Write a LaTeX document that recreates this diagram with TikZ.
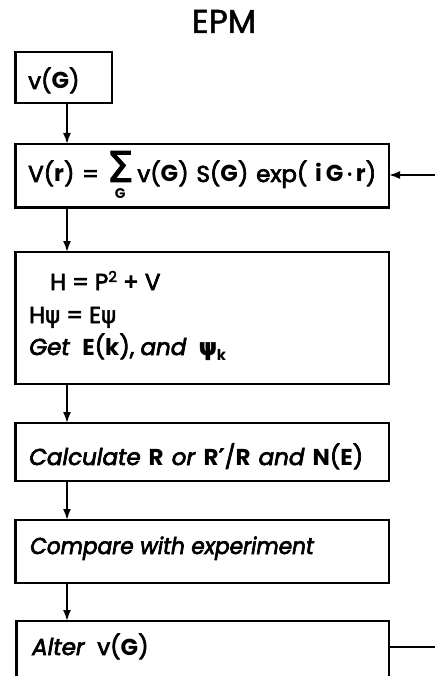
\documentclass[tikz,border=0pt]{standalone}
\usepackage{fontspec}
\setmainfont{Poppins}[UprightFeatures={FakeBold=3},ItalicFeatures={FakeBold=3}]
\newfontfamily\titlef{Poppins}[FakeBold=1.5]
\newfontfamily\gk{DejaVu Sans}[FakeBold=2]
\usetikzlibrary{arrows.meta}
\newsavebox\sigbox
\newcommand{\bsum}{\sbox\sigbox{\resizebox{!}{31pt}{\gk Σ}}\usebox\sigbox\llap{\raisebox{-17pt}{\makebox[\wd\sigbox]{\fontsize{14}{14}\selectfont\bfseries G}}}}
\newcommand{\psim}{{\gk ψ}}
\begin{document}
\begin{tikzpicture}[x=1pt,y=-1pt,
  box/.style={draw, line width=2.5pt, rectangle, inner sep=0pt, outer sep=0pt, anchor=north west},
  flow/.style={line width=1.8pt, -{Latex[length=11pt,width=8pt]}},
  txt/.style={anchor=base west, inner sep=0pt, font=\fontsize{23}{26}\selectfont},
  lbl/.style={anchor=base, inner sep=0pt, font=\titlef\fontsize{33}{36}\selectfont}]
\path[use as bounding box] (0,0) rectangle (435,676);
\clip (0,0) rectangle (435,676);
\node[lbl] (title) at (224,33) {EPM};
\node[box, minimum width=96.5pt, minimum height=51pt] (b1) at (15.5,52) {};
\node[box, minimum width=373.5pt, minimum height=63.5pt] (b2) at (15.5,144) {};
\node[box, minimum width=373.5pt, minimum height=132pt] (b3) at (15.5,252) {};
\node[box, minimum width=373.5pt, minimum height=58pt] (b4) at (15.5,423) {};
\node[box, minimum width=373.5pt, minimum height=63pt] (b5) at (15.5,520) {};
\node[box, minimum width=372.5pt, minimum height=100pt] (b6) at (16.5,621) {};
\node[txt] (t1) at (28,89) {v(\textbf{G})};
\node[txt] (t2) at (28,182) {\makebox[348pt][s]{V(\textbf{r}) = \bsum\,v(\textbf{G}) S(\textbf{G}) exp( \textbf{i}\,\textbf{G}\,·\,\textbf{r})}};
\node[txt] (t3a) at (50,290) {H = P\raisebox{8pt}{\fontsize{15}{15}\selectfont 2} + V};
\node[txt] (t3b) at (29,323) {H\psim{} = E\psim};
\node[txt] (t3c) at (29,355) {\textit{Get} \ \textbf{E}(\textbf{k}), \textit{and} \ \textbf{\psim}\raisebox{-5pt}{\fontsize{15}{15}\selectfont\bfseries k}};
\node[txt] (t4) at (29,465) {\makebox[334pt][s]{\textit{Calculate} \textbf{R} \textit{or} \textbf{R{\gk ′}}/\textbf{R} \textit{and} \textbf{N}(\textbf{E})}};
\node[txt] (t5) at (30,554) {\scalebox{0.94}[1]{\textit{Compare with experiment}}};
\node[txt] (t6) at (32,655) {\textit{Alter} \ v(\textbf{G})};
\coordinate (ax) at (67,0);
\coordinate (fb1) at (435,175);
\coordinate (fb2) at (435,647);
\draw[flow] (b1.south -| ax) -- (b2.north -| ax);
\draw[flow] (b2.south -| ax) -- (b3.north -| ax);
\draw[flow] (b3.south -| ax) -- (b4.north -| ax);
\draw[flow] (b4.south -| ax) -- (b5.north -| ax);
\draw[flow] (b5.south -| ax) -- (b6.north -| ax);
\draw[flow] (fb1) -- (fb1 -| b2.east);
\draw[line width=1.5pt] (b6.east |- fb2) -- (fb2);
\end{tikzpicture}
\end{document}
